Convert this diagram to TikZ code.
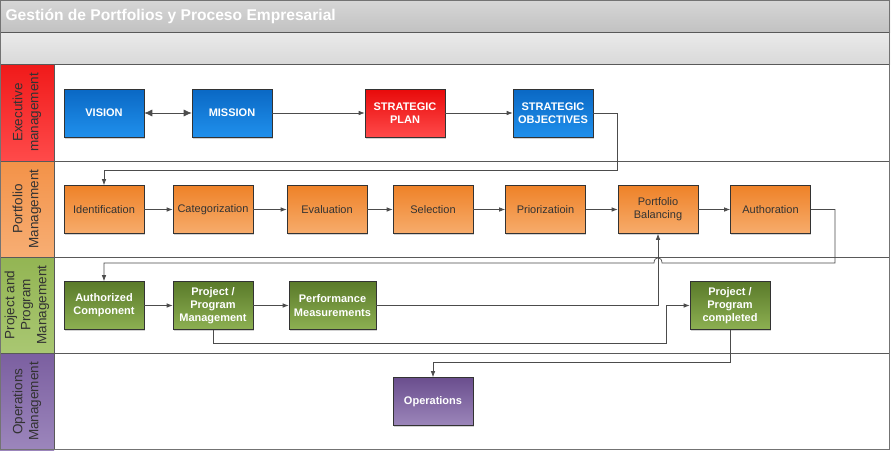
\documentclass[tikz,border=0pt]{standalone}
\usepackage{fontspec}
\setmainfont{Liberation Sans}
\usetikzlibrary{arrows.meta,shadows}
\definecolor{blueA}{HTML}{0A68C4}
\definecolor{blueB}{HTML}{2090EC}
\definecolor{redA}{HTML}{E80A0A}
\definecolor{redB}{HTML}{FF4A4A}
\definecolor{orA}{HTML}{EE8228}
\definecolor{orB}{HTML}{F7AC6C}
\definecolor{grA}{HTML}{5A7A2A}
\definecolor{grB}{HTML}{8DB052}
\definecolor{puA}{HTML}{6A4E8E}
\definecolor{puB}{HTML}{9C86BA}
\definecolor{laneR}{HTML}{F01A1A}
\definecolor{laneRb}{HTML}{FF4A4A}
\definecolor{laneO}{HTML}{F39248}
\definecolor{laneOb}{HTML}{F7AE74}
\definecolor{laneG}{HTML}{93B553}
\definecolor{laneGb}{HTML}{A9C772}
\definecolor{laneP}{HTML}{7B5FA0}
\definecolor{lanePb}{HTML}{9C86BC}
\begin{document}
\begin{tikzpicture}[x=1pt,y=-1pt,
  box/.style={draw=black!80, line width=0.6pt, minimum width=80pt, minimum height=48pt,
    inner sep=1pt, align=center,
    drop shadow={shadow xshift=0.6pt, shadow yshift=-1.6pt, opacity=0.35}},
  wbold/.style={text=white, font=\bfseries\fontsize{11}{13.3}\selectfont},
  bluebox/.style={box, wbold, top color=blueA, bottom color=blueB},
  redbox/.style={box, wbold, top color=redA, bottom color=redB},
  orbox/.style={box, top color=orA, bottom color=orB, text=black!80, font=\fontsize{11}{13.3}\selectfont},
  grbox/.style={box, wbold, top color=grA, bottom color=grB},
  pubox/.style={box, wbold, top color=puA, bottom color=puB},
  lanelabel/.style={rotate=90, align=center, text=black!80, font=\fontsize{13.5}{16}\selectfont},
  conn/.style={draw=black!70, line width=0.7pt},
  arr/.style={conn, -{Latex[length=6pt,width=4.5pt]}},
  sep/.style={draw=black!65, line width=1pt}
]
\fill[white] (0,0) rectangle (892,453);
\useasboundingbox (0,0) rectangle (892,453);
% title bars
\shade[top color=black!16, bottom color=black!24] (0,0) rectangle (890,32);
\shade[top color=black!8, bottom color=black!15] (0,32) rectangle (890,64);
\node[anchor=west, text=white, font=\bfseries\fontsize{15.6}{17}\selectfont] (title) at (2,16) {Gestión de Portfolios y Proceso Empresarial};
% lane labels
\shade[top color=laneR, bottom color=laneRb] (0,64) rectangle (54,161);
\shade[top color=laneO, bottom color=laneOb] (0,161) rectangle (54,257);
\shade[top color=laneG, bottom color=laneGb] (0,257) rectangle (54,353);
\shade[top color=laneP, bottom color=lanePb] (0,353) rectangle (54,450);
\node[lanelabel] (l1) at (27,112.5) {Executive\\management};
\node[lanelabel] (l2) at (27,209) {Portfolio\\Management};
\node[lanelabel] (l3) at (27,305) {Project and\\Program\\Management};
\node[lanelabel] (l4) at (27,401.5) {Operations\\Management};
% separators
\draw[sep] (0,32) -- (890,32);
\draw[sep] (0,64) -- (890,64);
\draw[sep] (0,161) -- (890,161);
\draw[sep] (0,257) -- (890,257);
\draw[sep] (0,353) -- (890,353);
\draw[sep] (54,64) -- (54,450);
\draw[draw=black!55, line width=1.2pt] (0.6,0.6) rectangle (889.4,449.4);
% boxes
\node[bluebox] (vision) at (104,113) {VISION};
\node[bluebox] (mission) at (232,113) {MISSION};
\node[redbox] (splan) at (405,113) {STRATEGIC\\PLAN};
\node[bluebox] (sobj) at (553,113) {STRATEGIC\\OBJECTIVES};
\node[orbox] (ident) at (104,209.5) {Identification};
\node[orbox] (categ) at (213,209.5) {Categorization};
\node[orbox] (eval) at (327,209.5) {Evaluation};
\node[orbox] (select) at (433,209.5) {Selection};
\node[orbox] (prior) at (545.5,209.5) {Priorizatioin};
\node[orbox] (pbal) at (658,209.5) {Portfolio\\Balancing};
\node[orbox] (author) at (770.5,209.5) {Authoration};
\node[grbox] (auth) at (104,305.5) {Authorized\\Component};
\node[grbox] (ppm) at (213,305.5) {Project /\\Program\\Management};
\node[grbox, minimum width=87pt] (perf) at (332.5,305.5) {Performance\\Measurements};
\node[grbox] (ppc) at (730,305.5) {Project /\\Program\\completed};
\node[pubox] (ops) at (433,401.5) {Operations};
% connectors
\draw[conn, {Latex[length=8pt,width=7pt]}-{Latex[length=8pt,width=7pt]}] (vision) -- (mission);
\draw[arr] (mission) -- (splan);
\draw[arr] (splan) -- (sobj);
\draw[arr] (sobj.east) -- (617,113) -- (617,170) -| (ident.north);
\draw[arr] (ident) -- (categ);
\draw[arr] (categ) -- (eval);
\draw[arr] (eval) -- (select);
\draw[arr] (select) -- (prior);
\draw[arr] (prior) -- (pbal);
\draw[arr] (pbal) -- (author);
\draw[arr] (author.east) -- (835,209.5) -- (835,263) -- (662,263)
   .. controls (662,256) and (654,256) .. (654,263) -| (auth.north);
\draw[arr] (auth) -- (ppm);
\draw[arr] (ppm) -- (perf);
\draw[arr] (perf.east) -| (pbal.south);
\draw[arr] (ppm.south) -- (213,343) -- (666,343) -- (666,305.5) -- (ppc.west);
\draw[arr] (ppc.south) -- (730,362) -| (ops.north);
\end{tikzpicture}
\end{document}
